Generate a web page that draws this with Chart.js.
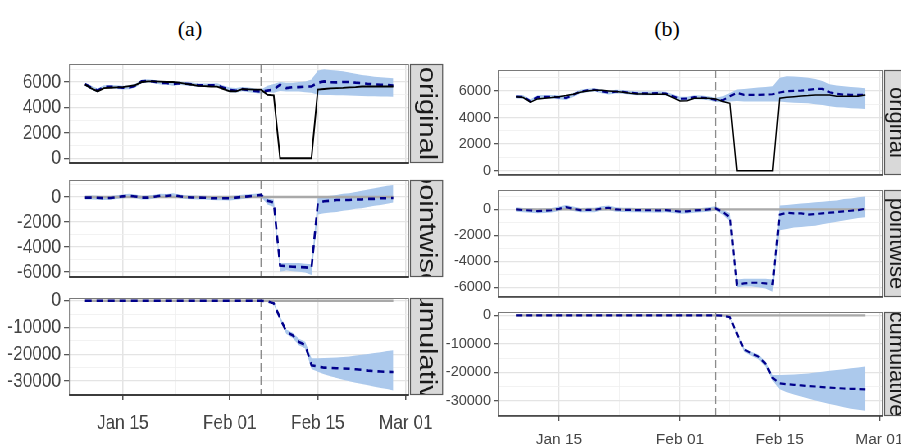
<!DOCTYPE html>
<html><head><meta charset="utf-8">
<script src="https://cdn.jsdelivr.net/npm/chart.js@4/dist/chart.umd.min.js"></script>
<style>
html,body{margin:0;padding:0;background:#fff;width:901px;height:446px;overflow:hidden;position:relative}
canvas{position:absolute}
.fig{position:absolute;top:0;height:446px;transform-origin:0 0}
.title{position:absolute;font-family:"Liberation Serif","Times New Roman",serif;font-size:22px;color:#000;transform:translate(-50%,-50%);white-space:nowrap}
</style></head><body>
<div class="title" style="left:190px;top:29px">(a)</div>
<div class="title" style="left:667px;top:29px">(b)</div>
<div id="figA" class="fig" style="left:0;width:549px;transform:scaleX(0.82)">
<canvas id="origA"></canvas><canvas id="pwA"></canvas><canvas id="cumA"></canvas>
</div>
<div id="figB" class="fig" style="left:430px;width:490px">
<canvas id="origB"></canvas><canvas id="pwB"></canvas><canvas id="cumB"></canvas>
</div>
<script>
// ---------- categories ----------
const dates = ["2019-01-09","2019-01-10","2019-01-11","2019-01-12","2019-01-13","2019-01-14","2019-01-15",
"2019-01-16","2019-01-17","2019-01-18","2019-01-19","2019-01-20","2019-01-21","2019-01-22","2019-01-23","2019-01-24","2019-01-25",
"2019-01-26","2019-01-27","2019-01-28","2019-01-29","2019-01-30","2019-01-31","2019-02-01","2019-02-02","2019-02-03","2019-02-04","2019-02-05","2019-02-06",
"2019-02-07","2019-02-08","2019-02-09","2019-02-10","2019-02-11","2019-02-12","2019-02-13","2019-02-14","2019-02-15","2019-02-16",
"2019-02-17","2019-02-18","2019-02-19","2019-02-20","2019-02-21","2019-02-22","2019-02-23","2019-02-24","2019-02-25","2019-02-26","2019-02-27"];
const interventionDate = "2019-02-06";
const xTickDates = ["2019-01-15","2019-02-01","2019-02-15","2019-03-01"];
const xTickLabels = ["Jan 15","Feb 01","Feb 15","Mar 01"];
const xMinorDates = ["2019-01-23T12:00:00Z","2019-02-08","2019-02-22"];
const facetLabels = ["original","pointwise","cumulative"];
const yTicksOriginal = [0,2000,4000,6000];
const yMinorOriginal = [1000,3000,5000,7000];
const yTicksPointwise = [0,-2000,-4000,-6000];
const yMinorPointwise = [1000,-1000,-3000,-5000];
const yTicksCumulative = [0,-10000,-20000,-30000];
const yMinorCumulative = [-5000,-15000,-25000,-35000];

// ---------- panel (a) ----------
const obsA = [5790,5500,5260,5520,5550,5580,5600, 5680,5750,6000,6050,6050,6030,6000,6000,5950,5850,
5780,5700,5680,5650,5640,5450,5270,5260,5440,5420,5400,5400, 5000,4950,0,0,0,0,0,0,
5400,5450,5500,5520,5540,5580,5600,5650,5650,5650,5650,5650,5650];
const predA = [5840,5550,5320,5620,5630,5600,5550, 5580,5710,6050,6100,6030,5930,5920,5840,5900,5870,
5820,5750,5740,5750,5740,5550,5370,5310,5440,5370,5300,5240,
5320,5400,5790,5520,5600,5600,5640,5650,5950,6050,5980,5970,6000,6000,5950,5920,5850,5820,5790,5760,5730];
const predUpperA = [5950,5700,5480,5750,5760,5740,5700, 5730,5860,6170,6220,6160,6080,6070,6000,6040,6010,
5960,5890,5880,5890,5900,5720,5560,5520,5600,5560,5480,5420,
5700,5850,6000,5950,5950,6000,6050,6200,6900,7000,6950,6900,6850,6750,6650,6550,6500,6420,6380,6330,6300];
const predLowerA = [5700,5400,5180,5480,5500,5460,5420, 5440,5570,5900,5960,5900,5800,5780,5700,5760,5730,
5680,5610,5600,5610,5600,5390,5200,5150,5280,5200,5130,5080,
5200,5150,5300,5250,5250,5250,5200,5150,5000,4980,4970,4960,4950,4940,4920,4900,4880,4870,4860,4850,4840];
const pointA = [-50,-50,-60,-100,-80,-20,50, 100,40,-50,-50,20,100,80,160,50,-20,
-40,-50,-60,-100,-100,-100,-100,-50,0,50,100,160,
-300,-450,-5500,-5550,-5600,-5620,-5650,-5700,-500,-350,-300,-250,-250,-250,-200,-200,-150,-150,-100,-100,-80];
const pointUpperA = [100,110,100,60,80,140,200, 250,190,100,110,170,250,230,300,200,130,
110,100,90,50,60,70,80,120,170,210,250,300,
-100,-200,-5300,-5300,-5300,-5300,-5350,-5400,0,50,100,150,250,300,400,500,600,700,800,900,960];
const pointLowerA = [-200,-200,-220,-250,-230,-170,-100, -60,-110,-200,-210,-130,-50,-70,20,-100,-170,
-190,-200,-210,-250,-260,-270,-280,-220,-170,-110,-60,20,
-600,-800,-6000,-5900,-5950,-6000,-6050,-6250,-1400,-1300,-1250,-1200,-1100,-1050,-950,-900,-800,-700,-650,-550,-450];
const cumA = [0,0,0,0,0,0,0, 0,0,0,0,0,0,0,0,0,0, 0,0,0,0,0,0,0,0,0,0,0,0,
-300,-1000,-6500,-11600,-12900,-15400,-16600,-24100,-24500,-25000,-25100,-25200,-25300,-25400,-25600,-25800,-26100,-26300,-26450,-26550,-26600];
const cumUpperA = [0,0,0,0,0,0,0, 0,0,0,0,0,0,0,0,0,0, 0,0,0,0,0,0,0,0,0,0,0,0,
-100,-600,-5800,-10800,-12000,-14200,-15300,-21500,-21500,-21400,-21300,-21200,-21000,-20800,-20500,-20200,-19900,-19500,-19200,-18800,-18500];
const cumLowerA = [0,0,0,0,0,0,0, 0,0,0,0,0,0,0,0,0,0, 0,0,0,0,0,0,0,0,0,0,0,0,
-500,-1400,-7200,-12400,-13900,-16600,-17800,-25500,-26500,-27500,-28200,-28900,-29500,-30100,-30600,-31100,-31600,-32100,-32600,-33000,-33500];

// ---------- panel (b) ----------
const obsB = [5570,5500,5150,5400,5450,5500,5570, 5650,5750,5900,6000,6050,6050,6000,5950,5900,5820,
5770,5760,5750,5750,5750,5500,5250,5270,5450,5450,5450,5400, 5200,5070,0,0,0,0,0,0,
5450,5530,5570,5620,5650,5700,5700,5700,5600,5600,5600,5600,5700];
const predB = [5570,5550,5230,5530,5550,5560,5520, 5470,5700,5950,6040,6090,5970,5870,5950,5930,5860,
5820,5820,5810,5830,5800,5600,5410,5420,5530,5500,5450,5320,
5300,5600,5850,5700,5700,5700,5720,5750,5880,5980,6000,6020,6080,6150,6150,5900,5780,5720,5710,5700,5700];
const predUpperB = [5700,5680,5380,5680,5690,5700,5670, 5630,5850,6080,6170,6210,6100,6010,6090,6070,6000,
5960,5960,5950,5970,5940,5750,5570,5570,5680,5650,5600,5480,
5600,5850,6100,6150,6200,6250,6300,6350,7000,7100,7080,7050,7000,6900,6750,6500,6400,6350,6300,6250,6200];
const predLowerB = [5440,5420,5090,5380,5400,5410,5380, 5320,5550,5810,5900,5960,5830,5730,5810,5790,5720,
5680,5680,5670,5690,5660,5450,5260,5270,5380,5350,5300,5170,
5150,5200,5250,5200,5200,5200,5200,5200,5200,5150,5120,5100,5080,5000,4950,4850,4780,4750,4700,4680,4650];
const pointB = [0,-50,-80,-130,-100,-60,50, 180,50,-50,-40,-40,80,130,0,-30,-40,
-50,-60,-60,-80,-50,-100,-160,-150,-80,-50,0,80,
-200,-600,-5800,-5700,-5650,-5650,-5700,-5750,-400,-250,-300,-300,-400,-350,-300,-250,-200,-150,-100,-50,50];
const pointUpperB = [170,120,90,40,70,110,220, 350,220,120,130,130,250,300,170,140,130,
120,110,110,90,120,70,10,20,90,120,170,250,
0,-300,-5400,-5350,-5350,-5350,-5350,-5400,300,350,400,450,500,550,600,650,700,800,850,950,1000];
const pointLowerB = [-170,-220,-250,-300,-270,-230,-120, 10,-120,-220,-210,-210,-90,-40,-170,-200,-210,
-220,-230,-230,-250,-220,-270,-330,-320,-250,-220,-170,-90,
-400,-900,-6000,-5950,-5950,-6000,-6100,-6350,-1600,-1500,-1400,-1350,-1300,-1250,-1150,-1050,-950,-850,-750,-650,-600];
const cumB = [0,0,0,0,0,0,0, 0,0,0,0,0,0,0,0,0,0, 0,0,0,0,0,0,0,0,0,0,0,0,
-100,-700,-6500,-12000,-13300,-14500,-17000,-22000,-23900,-24200,-24400,-24600,-24850,-25000,-25200,-25400,-25550,-25700,-25800,-25900,-26000];
const cumUpperB = [0,0,0,0,0,0,0, 0,0,0,0,0,0,0,0,0,0, 0,0,0,0,0,0,0,0,0,0,0,0,
0,-400,-6000,-11500,-12800,-13800,-16200,-21000,-21000,-20900,-20800,-20600,-20400,-20100,-19800,-19500,-19200,-18900,-18600,-18300,-18000];
const cumLowerB = [0,0,0,0,0,0,0, 0,0,0,0,0,0,0,0,0,0, 0,0,0,0,0,0,0,0,0,0,0,0,
-300,-1000,-6900,-12800,-14200,-15400,-18000,-23000,-26000,-27000,-27800,-28500,-29200,-29900,-30500,-31100,-31700,-32300,-32800,-33200,-33500];

// ---------- helpers ----------
const base = Date.parse("2019-01-15T00:00:00Z");
const dayOf = s => (Date.parse(s.length === 10 ? s + "T00:00:00Z" : s) - base) / 86400000;
const xs = dates.map(dayOf);
const pts = arr => arr.map((v, i) => ({x: xs[i], y: v}));
const BAND = "rgb(172,201,236)";

const facetPlugin = {
  id: "facet",
  beforeDatasetsDraw(chart, args, o) {
    const {ctx, chartArea: a, scales: {x}} = chart;
    const px = x.getPixelForValue(dayOf(interventionDate));
    ctx.save();
    ctx.strokeStyle = "#8c8c8c"; ctx.lineWidth = o.vlw; ctx.setLineDash(o.vdash);
    ctx.beginPath(); ctx.moveTo(px, a.top); ctx.lineTo(px, a.bottom); ctx.stroke();
    ctx.restore();
  },
  afterDraw(chart, args, o) {
    const {ctx, chartArea: a} = chart;
    ctx.save();
    ctx.strokeStyle = "#7a7a7a"; ctx.lineWidth = 1;
    ctx.strokeRect(a.left + 0.5, a.top + 0.5, a.right - a.left - 1, a.bottom - a.top - 1);
    ctx.strokeStyle = "#3c3c3c"; ctx.lineWidth = o.blw;
    ctx.beginPath(); ctx.moveTo(a.left, a.bottom); ctx.lineTo(a.right, a.bottom); ctx.stroke();
    // strip
    const sx = a.right + o.sgap, sw = o.sw, sy = a.top, sh = a.bottom - a.top;
    ctx.fillStyle = "#d9d9d9"; ctx.fillRect(sx, sy, sw, sh);
    ctx.strokeStyle = "#5a5a5a"; ctx.lineWidth = 1.2; ctx.strokeRect(sx + 0.5, sy + 0.5, sw - 1, sh - 1);
    ctx.beginPath(); ctx.rect(sx + 1, sy + 1, sw - 2, sh - 2); ctx.clip();
    ctx.translate(sx + sw / 2 + o.soff, sy + sh / 2);
    ctx.rotate(Math.PI / 2);
    ctx.fillStyle = "#1a1a1a"; ctx.font = o.sf + "px 'Liberation Sans', Arial, sans-serif";
    ctx.textAlign = "center"; ctx.textBaseline = "middle";
    ctx.fillText(o.label, 0, 0);
    ctx.restore();
  }
};

function makeFacet(id, st, f) {
  const cv = document.getElementById(id);
  cv.width = st.cw; cv.height = f.cb - f.ct;
  cv.style.left = "0px"; cv.style.top = f.ct + "px";
  const xh = f.bottom ? st.xh : 0;
  const datasets = [];
  if (f.obs) datasets.push({data: pts(f.obs), borderColor: "#000", borderWidth: st.olw, fill: false});
  datasets.push({data: pts(f.mean), borderColor: "#00008b", borderWidth: st.dlw, borderDash: st.dash, fill: false});
  if (!f.obs) datasets.push({data: [{x: xs[0], y: 0}, {x: xs[xs.length - 1], y: 0}], borderColor: "#a9a9a9", borderWidth: st.zlw, fill: false});
  datasets.push({data: pts(f.up), borderColor: "rgba(0,0,0,0)", borderWidth: 0, backgroundColor: BAND, fill: "+1"});
  datasets.push({data: pts(f.lo), borderColor: "rgba(0,0,0,0)", borderWidth: 0, fill: false});
  const xMajor = xTickDates.map(dayOf), xMinor = xMinorDates.map(dayOf);
  return new Chart(cv, {
    type: "line",
    data: {datasets},
    plugins: [facetPlugin],
    options: {
      responsive: false, animation: false, events: [],
      layout: {padding: {left: 0, right: st.cw - st.ar, top: f.at - f.ct, bottom: (f.cb - f.ab) - xh}},
      elements: {point: {radius: 0}, line: {tension: 0}},
      plugins: {legend: {display: false}, tooltip: {enabled: false},
        filler: {drawTime: "beforeDatasetsDraw"},
        facet: {label: f.label, sw: st.sw, sgap: st.sgap, sf: st.sf, soff: st.soff, vlw: st.vlw, vdash: st.vdash, blw: st.blw}},
      scales: {
        x: {type: "linear", min: -8.55, max: 45.5,
          afterBuildTicks: s => { s.ticks = xMajor.map((v, i) => ({value: v, lab: xTickLabels[i]})).concat(xMinor.map(v => ({value: v, minor: true}))).sort((p, q) => p.value - q.value); },
          afterFit: s => { s.height = xh; s.paddingLeft = 0; s.paddingRight = 0; },
          ticks: {display: !!f.bottom, autoSkip: false, maxRotation: 0, padding: st.xpad, color: "#444",
            font: {family: st.xfam, size: st.xfs}, callback: (v, i, t) => t[i].minor ? "" : t[i].lab},
          grid: {drawTicks: !!f.bottom, tickLength: 5,
            color: c => c.tick && c.tick.minor ? "#efefef" : "#e4e4e4",
            lineWidth: c => c.tick && c.tick.minor ? 0.8 : st.xgw,
            tickColor: c => c.tick && c.tick.minor ? "rgba(0,0,0,0)" : "#555"},
          border: {display: false}},
        y: {type: "linear", min: f.min, max: f.max,
          afterBuildTicks: s => { s.ticks = f.maj.map(v => ({value: v})).concat(f.mnr.map(v => ({value: v, minor: true}))).filter(t => t.value >= f.min && t.value <= f.max).sort((p, q) => p.value - q.value); },
          afterFit: s => { s.width = st.yw; s.paddingTop = 0; s.paddingBottom = 0; },
          ticks: {autoSkip: false, padding: st.ypad, color: "#444", font: {family: st.yfam, size: st.yfs},
            callback: (v, i, t) => t[i].minor ? "" : String(t[i].value)},
          grid: {tickLength: st.ytl,
            color: c => c.tick && c.tick.minor ? "#efefef" : "#e4e4e4",
            lineWidth: c => c.tick && c.tick.minor ? 0.8 : 1.3,
            tickColor: c => c.tick && c.tick.minor ? "rgba(0,0,0,0)" : "#555"},
          border: {display: false}}
      }
    }
  });
}

// panel (a) is drawn in a horizontally condensed frame (scaleX 0.82), so its horizontal sizes are divided by k
const kA = 0.82;
const styleA = {cw: 549, yw: 69 / kA, ar: 409 / kA, sw: 33 / kA, sgap: 1 / kA, sf: 29, soff: 0, xh: 45, xpad: 11, ytl: 5 / kA, ypad: 3 / kA,
  yfam: "'Liberation Sans',Arial,sans-serif", yfs: 21,
  xfam: "'Liberation Sans',Arial,sans-serif", xfs: 21, xgw: 1.5,
  olw: 1.9, dlw: 2.6, dash: [8, 6], zlw: 2.6, vlw: 1.8, vdash: [9, 4], blw: 2};
// panel (b) frame starts at x = 430
const styleB = {cw: 490, yw: 68, ar: 453, sw: 25, sgap: 1, sf: 22, soff: 0, xh: 40, xpad: 9, ytl: 4, ypad: 3,
  yfam: "'Liberation Sans',Arial,sans-serif", yfs: 14.5,
  xfam: "'Liberation Sans',Arial,sans-serif", xfs: 15.5, xgw: 1.3,
  olw: 1.5, dlw: 2.2, dash: [6, 4], zlw: 2.2, vlw: 1.3, vdash: [8, 4], blw: 1.6};

makeFacet("origA", styleA, {label: facetLabels[0], ct: 50, at: 64, ab: 163, cb: 175, min: -380, max: 7420,
  maj: yTicksOriginal, mnr: yMinorOriginal, obs: obsA, mean: predA, up: predUpperA, lo: predLowerA});
makeFacet("pwA", styleA, {label: facetLabels[1], ct: 168, at: 180, ab: 277, cb: 290, min: -6420, max: 1360,
  maj: yTicksPointwise, mnr: yMinorPointwise, mean: pointA, up: pointUpperA, lo: pointLowerA});
makeFacet("cumA", styleA, {label: facetLabels[2], ct: 288, at: 298, ab: 395, cb: 446, min: -35200, max: 1000, bottom: true,
  maj: yTicksCumulative, mnr: yMinorCumulative, mean: cumA, up: cumUpperA, lo: cumLowerA});
makeFacet("origB", styleB, {label: facetLabels[0], ct: 56, at: 70, ab: 175, cb: 186, min: -325, max: 7575,
  maj: yTicksOriginal, mnr: yMinorOriginal, obs: obsB, mean: predB, up: predUpperB, lo: predLowerB});
makeFacet("pwB", styleB, {label: facetLabels[1], ct: 178, at: 190, ab: 297, cb: 308, min: -6750, max: 1500,
  maj: yTicksPointwise, mnr: yMinorPointwise, mean: pointB, up: pointUpperB, lo: pointLowerB});
makeFacet("cumB", styleB, {label: facetLabels[2], ct: 300, at: 312, ab: 416, cb: 460, min: -35350, max: 1150, bottom: true,
  maj: yTicksCumulative, mnr: yMinorCumulative, mean: cumB, up: cumUpperB, lo: cumLowerB});
</script>
</body></html>
